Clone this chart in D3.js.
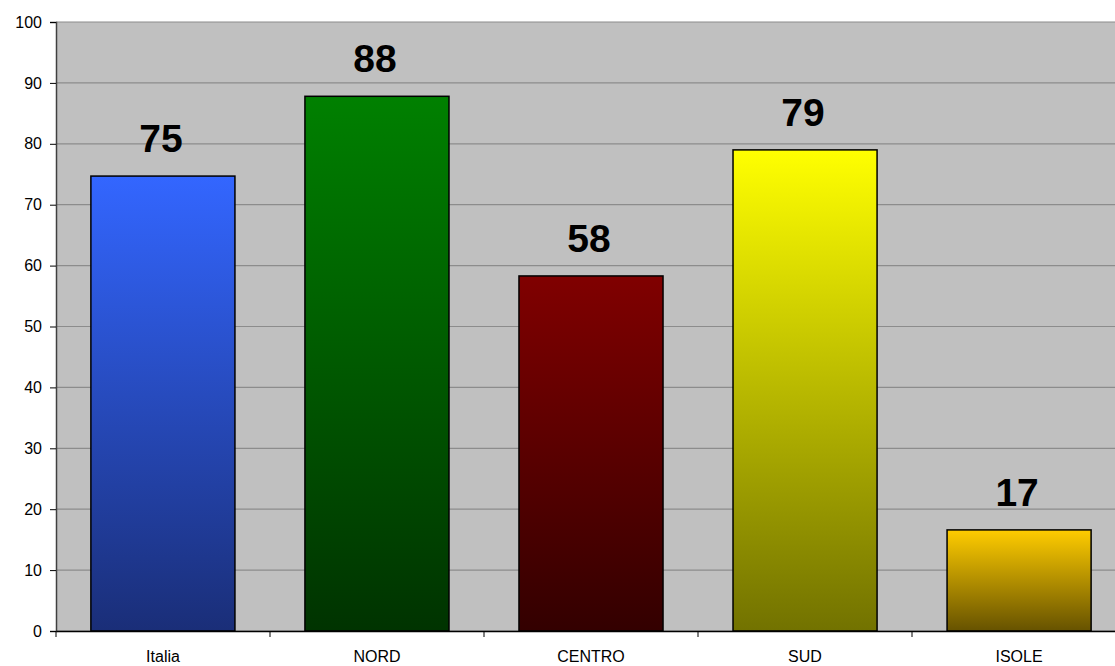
<!DOCTYPE html>
<html><head><meta charset="utf-8">
<script src="https://cdn.jsdelivr.net/npm/d3@7"></script>
<style>body{margin:0;background:#fff}svg{display:block}</style>
</head><body>
<svg id="c" width="1115" height="666"></svg>
<script>
const categories = ["Italia","NORD","CENTRO","SUD","ISOLE"];
const values = [74.7, 87.8, 58.3, 79.0, 16.6];
const labels = ["75","88","58","79","17"];
const yTicks = [0,10,20,30,40,50,60,70,80,90,100];
const topColors = ["#3366FF","#008000","#800000","#FFFF00","#FFCC00"];
const bottomColors = ["#1A2E78","#003300","#330000","#727200","#665200"];

const svg = d3.select("#c");
const L = 56, R = 1126, T = 22, B = 631;
const x = d3.scaleBand().domain(categories).range([L, R]).paddingInner(0.327).paddingOuter(0.163);
const band = d3.scaleBand().domain(categories).range([L, R]);
const y = d3.scaleLinear().domain([0,100]).range([B, T]);

const defs = svg.append("defs");
categories.forEach((c,i)=>{
  const g = defs.append("linearGradient").attr("id","g"+i).attr("x1",0).attr("y1",0).attr("x2",0).attr("y2",1);
  g.append("stop").attr("offset","0%").attr("stop-color",topColors[i]);
  g.append("stop").attr("offset","100%").attr("stop-color",bottomColors[i]);
});

svg.append("rect").attr("x",L).attr("y",T).attr("width",R-L).attr("height",B-T).attr("fill","#C0C0C0");

svg.append("g").selectAll("line").data(yTicks).join("line")
  .attr("x1",L).attr("x2",R).attr("y1",d=>y(d)).attr("y2",d=>y(d))
  .attr("stroke","#8c8c8c").attr("stroke-width",1.2);

const yAxis = svg.append("g").attr("transform",`translate(${L},0)`)
  .call(d3.axisLeft(y).tickValues(yTicks).tickSize(6).tickPadding(8));
yAxis.select(".domain").attr("stroke","#404040").attr("stroke-width",1.5);
yAxis.selectAll(".tick line").attr("stroke","#000");
yAxis.selectAll("text").attr("font-family","Liberation Sans, Arial, sans-serif").attr("font-size",16).attr("fill","#000");

svg.append("g").selectAll("rect").data(categories).join("rect")
  .attr("x",d=>x(d)).attr("width",x.bandwidth())
  .attr("y",(d,i)=>y(values[i])).attr("height",(d,i)=>B-y(values[i]))
  .attr("fill",(d,i)=>`url(#g${i})`).attr("stroke","#000").attr("stroke-width",1.5);

svg.append("g").selectAll("text").data(categories).join("text")
  .attr("x",d=>x(d)+x.bandwidth()/2 - 2).attr("y",(d,i)=>y(values[i])-24)
  .attr("text-anchor","middle").attr("font-family","Liberation Sans, Arial, sans-serif")
  .attr("font-weight","bold").attr("font-size",39).attr("fill","#000")
  .text((d,i)=>labels[i]);

const xAxis = svg.append("g").attr("transform",`translate(0,${B})`)
  .call(d3.axisBottom(band).tickSize(0).tickPadding(20));
xAxis.select(".domain").attr("stroke","#000").attr("stroke-width",1.5);
xAxis.selectAll("text").attr("font-family","Liberation Sans, Arial, sans-serif").attr("font-size",16).attr("fill","#000");
svg.append("g").selectAll("line").data(categories.concat(["end"])).join("line")
  .attr("x1",(d,i)=>L+i*band.bandwidth()).attr("x2",(d,i)=>L+i*band.bandwidth())
  .attr("y1",B).attr("y2",B+6).attr("stroke","#000");
</script>
</body></html>
